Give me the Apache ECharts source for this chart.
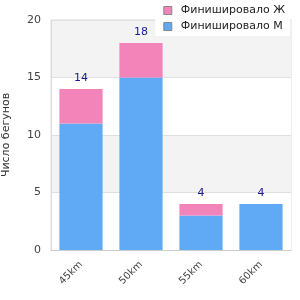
<html lang="ru">
<head>
  <meta charset="UTF-8">
  <style>
    body { margin: 0; padding: 0; background: #fff; }
    #chart { width: 300px; height: 300px; }
  </style>
  <script src="https://cdn.jsdelivr.net/npm/echarts@6/dist/echarts.min.js"></script>
</head>
<body>
  <div id="chart"></div>
  <script>
    let categories = ['45km', '50km', '55km', '60km'];
    let menData = [11, 15, 3, 4];
    let womenData = [3, 3, 1, 0];
    let totals = menData.map(function (v, i) { return v + womenData[i]; });

    let myChart = echarts.init(document.getElementById('chart'));

    let option = {
      animation: false,
      textStyle: { fontFamily: 'DejaVu Sans' },
      grid: {
        left: 51, right: 9, top: 20, bottom: 50,
        containLabel: false,
        outerBoundsMode: 'none',
        show: true,
        borderColor: '#ddd',
        borderWidth: 1
      },
      legend: {
        data: ['Финишировало Ж', 'Финишировало М'],
        orient: 'vertical',
        right: 10,
        top: 3,
        icon: 'rect',
        itemWidth: 8,
        itemHeight: 8,
        itemGap: 5,
        backgroundColor: '#fff',
        padding: [2, 5, 4, 8],
        itemStyle: { borderColor: '#888', borderWidth: 1 },
        textStyle: { fontSize: 11, color: '#222', padding: [0, 0, 0, 4] }
      },
      xAxis: {
        type: 'category',
        data: categories,
        axisTick: { show: false },
        axisLine: { lineStyle: { color: '#ccc' } },
        axisLabel: { rotate: 45, color: '#444', fontSize: 10, margin: 13 }
      },
      yAxis: {
        type: 'value',
        min: 0,
        max: 20,
        interval: 5,
        name: 'Число бегунов',
        nameLocation: 'middle',
        nameGap: 39,
        nameTextStyle: { color: '#333', fontSize: 11 },
        axisLine: { show: true, lineStyle: { color: '#ddd' } },
        axisLabel: { color: '#444', fontSize: 11, margin: 10 },
        splitLine: { lineStyle: { color: '#e0e0e0' } },
        splitArea: { show: true, areaStyle: { color: ['#ffffff', '#f3f3f3'] } }
      },
      series: [
        {
          name: 'Финишировало М',
          type: 'bar',
          stack: 'total',
          barWidth: '72%',
          itemStyle: { color: '#5fa9f5' },
          data: menData
        },
        {
          name: 'Финишировало Ж',
          type: 'bar',
          stack: 'total',
          itemStyle: { color: '#f284ba' },
          label: {
            show: true,
            position: 'top',
            color: '#1a1a99',
            fontSize: 11,
            formatter: function (p) { return totals[p.dataIndex]; }
          },
          data: womenData
        }
      ]
    };

    myChart.setOption(option);
  </script>
</body>
</html>
